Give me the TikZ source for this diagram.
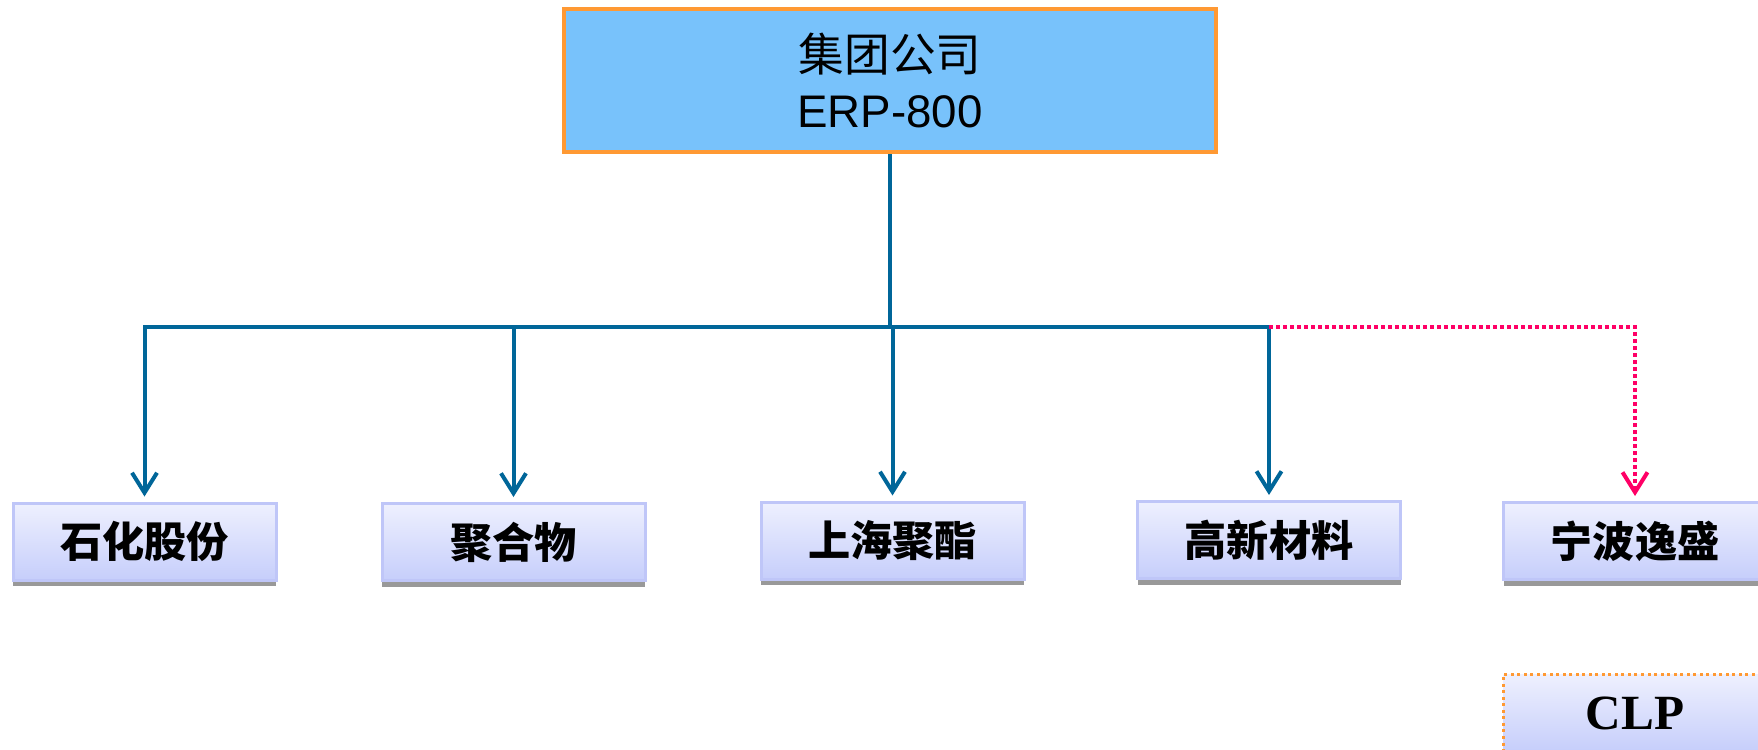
\documentclass[tikz,border=0pt]{standalone}
\usepackage{fontspec}
\setmainfont{Liberation Sans}
\newfontfamily\cjk{Noto Sans CJK SC}
\newfontfamily\clpfont{Liberation Serif}
\usepackage{tikz}
\usetikzlibrary{arrows.meta,shadows,calc}

\definecolor{linkblue}{RGB}{0,102,153}
\definecolor{dotred}{RGB}{255,0,102}
\definecolor{topfill}{RGB}{120,194,251}
\definecolor{topedge}{RGB}{255,153,51}
\definecolor{boxtop}{RGB}{238,240,254}
\definecolor{boxbot}{RGB}{198,206,251}
\definecolor{boxedge}{RGB}{191,198,248}

\begin{document}
\begin{tikzpicture}[>={Straight Barb[length=2mm,width=2.5mm,line width=0.4mm]},
  company/.style={draw=boxedge,line width=0.3mm,top color=boxtop,bottom color=boxbot,
    minimum width=2.63cm,minimum height=0.77cm,inner sep=0pt,font=\cjk\bfseries\fontsize{12}{14}\selectfont,
    general shadow={fill=gray!80,shadow yshift=-0.06cm}},
  link/.style={draw=linkblue,line width=0.4mm},
  dotlink/.style={draw=dotred,line width=0.4mm,dash pattern=on 0.35mm off 0.35mm}]
  \useasboundingbox (0,0) rectangle (17.58,7.49);

  \node[draw=topedge,fill=topfill,line width=0.45mm,minimum width=6.52cm,minimum height=1.43cm,align=center,font=\fontsize{13}{16}\selectfont] (jituan) at (8.90,6.685) {{\cjk 集团公司}\\ERP-800};

  \node[company] (shihua) at (1.445,2.075) {石化股份};
  \node[company] (juhe) at (5.135,2.07) {聚合物};
  \node[company] (shanghai) at (8.925,2.085) {上海聚酯};
  \node[company] (gaoxin) at (12.69,2.09) {高新材料};
  \node[company] (ningbo) at (16.35,2.08) {宁波逸盛};
  \node[company,draw=topedge,densely dotted,font=\clpfont\bfseries\fontsize{14}{16}\selectfont] (clp) at (16.35,0.36) {CLP};

  \coordinate (bus) at (8.90,4.22);
  \draw[link] (jituan.south) -- (bus);
  \foreach \c in {shihua,juhe,shanghai,gaoxin}
    \draw[link,->,shorten >=0.05cm] (bus) -| (\c.north);
  % dotted branch
  \draw[dotlink,->,shorten >=0.05cm] (bus -| gaoxin.north) -| (ningbo.north);
\end{tikzpicture}
\end{document}
